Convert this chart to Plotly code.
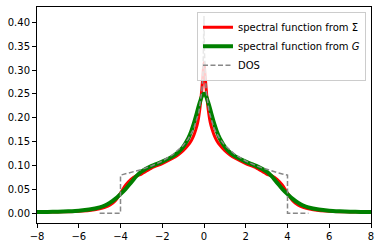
import plotly.graph_objects as go

# spectral functions
x_A = [-8, -7.5, -7, -6.5, -6, -5.5, -5, -4.75, -4.5, -4.25, -4, -3.75, -3.5, -3.25, -3,
       -2.5, -2, -1.5, -1.25, -1, -0.75, -0.6, -0.5, -0.4, -0.3, -0.2, -0.1, -0.05,
       0,
       0.05, 0.1, 0.2, 0.3, 0.4, 0.5, 0.6, 0.75, 1, 1.25, 1.5, 2, 2.5,
       3, 3.25, 3.5, 3.75, 4, 4.25, 4.5, 4.75, 5, 5.5, 6, 6.5, 7, 7.5, 8]
A_sigma = [0.002, 0.0023, 0.0027, 0.0032, 0.004, 0.0055, 0.009, 0.012, 0.017, 0.026, 0.042, 0.059, 0.071, 0.078, 0.082,
           0.095, 0.104, 0.115, 0.122, 0.131, 0.143, 0.153, 0.162, 0.174, 0.19, 0.218, 0.262, 0.29,
           0.316,
           0.29, 0.262, 0.218, 0.19, 0.174, 0.162, 0.153, 0.143, 0.131, 0.122, 0.115, 0.104, 0.095,
           0.082, 0.078, 0.071, 0.059, 0.042, 0.026, 0.017, 0.012, 0.009, 0.0055, 0.004, 0.0032, 0.0027, 0.0023, 0.002]
A_G = [0.0022, 0.0026, 0.0032, 0.004, 0.0052, 0.0075, 0.012, 0.016, 0.022, 0.030, 0.040, 0.051, 0.064, 0.077, 0.087,
       0.099, 0.108, 0.119, 0.127, 0.139, 0.157, 0.173, 0.186, 0.201, 0.217, 0.232, 0.245, 0.249,
       0.25,
       0.249, 0.245, 0.232, 0.217, 0.201, 0.186, 0.173, 0.157, 0.139, 0.127, 0.119, 0.108, 0.099,
       0.087, 0.077, 0.064, 0.051, 0.040, 0.030, 0.022, 0.016, 0.012, 0.0075, 0.0052, 0.004, 0.0032, 0.0026, 0.0022]

# density of states
x_dos = [-5, -4, -4, -3.75, -3.5, -3.25, -3, -2.5, -2, -1.5, -1, -0.75, -0.5, -0.25, -0.1, -0.05, -0.02, -0.01,
         0,
         0.01, 0.02, 0.05, 0.1, 0.25, 0.5, 0.75, 1, 1.5, 2, 2.5, 3, 3.25, 3.5, 3.75, 4, 4, 5]
dos = [0, 0, 0.0796, 0.0822, 0.085, 0.0881, 0.0914, 0.0993, 0.1093, 0.1225, 0.1419, 0.156, 0.1761, 0.2109, 0.2572, 0.2922, 0.3386, 0.3738,
       0.413,
       0.3738, 0.3386, 0.2922, 0.2572, 0.2109, 0.1761, 0.156, 0.1419, 0.1225, 0.1093, 0.0993, 0.0914, 0.0881, 0.085, 0.0822, 0.0796, 0, 0]

x_ticks = [-8, -6, -4, -2, 0, 2, 4, 6, 8]
y_ticks = [0.0, 0.05, 0.10, 0.15, 0.20, 0.25, 0.30, 0.35, 0.40]

fig = go.Figure()
fig.add_trace(go.Scatter(x=x_A, y=A_sigma, mode="lines", name="spectral function from Σ",
                         line=dict(color="#ff0000", width=3, shape="spline", smoothing=0.6)))
fig.add_trace(go.Scatter(x=x_A, y=A_G, mode="lines", name="spectral function from <i>G</i>",
                         line=dict(color="#008000", width=4, shape="spline", smoothing=0.6)))
fig.add_trace(go.Scatter(x=x_dos, y=dos, mode="lines", name="DOS",
                         line=dict(color="#888888", width=1.5, dash="5px,2.5px")))

axis_common = dict(showline=True, mirror=True, linecolor="black", linewidth=1,
                   ticks="outside", ticklen=4, tickwidth=1, tickcolor="black",
                   showgrid=False, zeroline=False,
                   tickfont=dict(family="DejaVu Sans", size=10, color="black"))

fig.update_xaxes(range=[-8, 8], tickvals=x_ticks, **axis_common)
fig.update_yaxes(range=[-0.0206, 0.432], tickvals=y_ticks, tickformat=".2f", **axis_common)

fig.update_layout(
    width=381, height=248,
    margin=dict(l=37, r=10, t=6, b=24),
    plot_bgcolor="white", paper_bgcolor="white",
    font=dict(family="DejaVu Sans", size=10, color="black"),
    legend=dict(x=0.985, y=0.978, xanchor="right", yanchor="top",
                bgcolor="rgba(255,255,255,0.8)", bordercolor="#cccccc", borderwidth=1,
                font=dict(family="DejaVu Sans", size=10, color="black"),
                itemwidth=30, tracegroupgap=0),
)

fig.write_html("out.html")
